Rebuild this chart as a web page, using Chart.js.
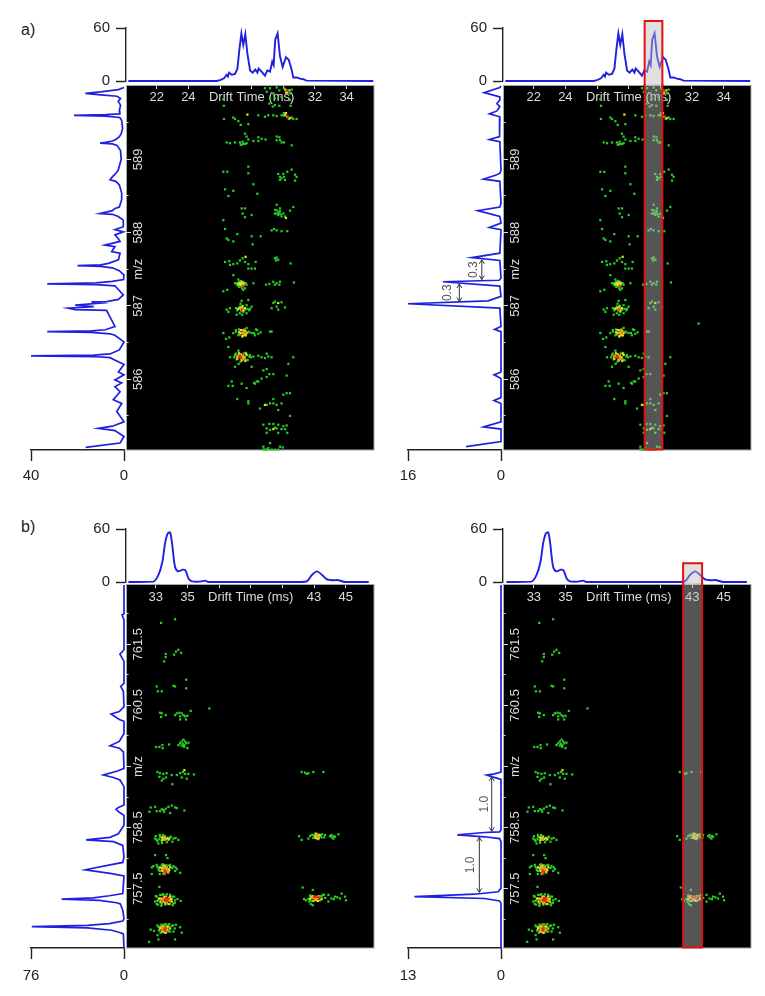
<!DOCTYPE html>
<html><head><meta charset="utf-8">
<script src="https://cdn.jsdelivr.net/npm/chart.js@4"></script>
<style>
html,body{margin:0;padding:0;background:#fff;width:765px;height:996px;overflow:hidden}
canvas{position:absolute;display:block}
.tag{position:absolute;font:16px "Liberation Sans",Arial,sans-serif;color:#222}
</style></head><body>
<div class="tag" style="left:21px;top:21px">a)</div>
<div class="tag" style="left:21px;top:518px">b)</div>
<script>
// ---------- DATA ----------
const topTraceA=[[20.21,0],[25.79,0],[26,1],[26.25,3],[26.42,7],[26.5,5],[26.57,9.5],[26.74,7],[26.95,8],[27.1,14],[27.22,35],[27.35,54],[27.47,41],[27.6,53],[27.73,31],[27.9,12],[28.06,9.5],[28.23,13],[28.36,9.5],[28.44,14],[28.63,10.6],[28.84,6],[28.99,12],[29.16,10.6],[29.3,22],[29.39,18],[29.49,47],[29.64,54],[29.79,28],[29.96,16],[30.17,27],[30.34,24],[30.51,14],[30.63,4],[30.84,4],[31.05,2.7],[31.26,2],[31.47,0.4],[35.68,0]];
const topTraceB=[[31.27,0],[32.85,0.4],[33.17,8],[33.42,23],[33.59,44],[33.76,55],[33.91,56],[34.03,44],[34.22,17],[34.43,12],[34.71,14],[34.88,13],[35.07,4],[35.28,0.8],[35.8,0.4],[36.12,1.5],[36.33,0],[42.13,0],[42.56,1],[42.87,8],[43.19,12],[43.51,8],[43.82,3],[44.03,2.3],[44.24,1.9],[44.46,2.3],[44.77,0.8],[44.98,0],[46.46,0]];
const sideTraceA=[[589.98,0],[589.95,2.4],[589.92,10],[589.9,16.6],[589.88,10],[589.86,3],[589.83,1.5],[589.79,2.5],[589.74,1.5],[589.66,2],[589.62,1.8],[589.61,8],[589.6,21.5],[589.59,8],[589.57,1.8],[589.53,1],[589.42,0.6],[589.35,1.2],[589.31,2],[589.27,3.5],[589.25,5],[589.23,8],[589.22,10.3],[589.21,5],[589.19,3],[589.12,1.5],[589,1.2],[588.85,2.5],[588.81,3.5],[588.76,5],[588.72,6],[588.7,3.5],[588.65,2],[588.54,1],[588.45,1],[588.35,2],[588.33,3.9],[588.3,5],[588.26,10.3],[588.25,5],[588.22,2.5],[588.17,0.3],[588.08,0.3],[588.04,3.9],[588.01,0.3],[587.97,3.9],[587.92,2.5],[587.88,1.7],[587.83,8.2],[587.81,3.9],[587.74,5.3],[587.72,1.7],[587.63,2.4],[587.58,6.7],[587.56,10],[587.55,20],[587.54,10],[587.52,5],[587.48,2],[587.42,0],[587.36,0.2],[587.335,5],[587.315,12],[587.3,33],[587.29,12],[587.275,3.9],[587.15,0.3],[587.09,2.4],[587.06,7.5],[587.055,14],[587.04,10],[587.01,21],[586.99,13],[586.97,24],[586.95,21],[586.94,7.5],[586.72,3.9],[586.675,8],[586.66,14],[586.65,33],[586.64,14],[586.62,6],[586.6,3.9],[586.51,0],[586.4,2],[586.345,6],[586.33,13],[586.32,40],[586.31,13],[586.295,6],[586.25,3.1],[586.2,0],[586.1,2.4],[586.06,0],[585.99,3.9],[585.95,1],[585.9,3.9],[585.83,1.7],[585.72,4.6],[585.67,1],[585.56,3.1],[585.42,0],[585.36,5],[585.33,11],[585.31,6],[585.3,3.9],[585.22,0],[585.13,1.7],[585.07,16.5]];
const sideTraceA2=[[590,0],[589.98,0.2],[589.91,2.9],[589.85,0.2],[589.81,0.2],[589.76,0.7],[589.72,0.2],[589.66,0.7],[589.62,2],[589.58,0.2],[589.35,0.2],[589.31,0.3],[589.27,2],[589.24,0.2],[588.85,0],[588.81,0.2],[588.79,0.7],[588.73,3],[588.7,0.2],[588.4,0],[588.35,0.2],[588.3,4],[588.22,0.2],[588.13,0],[588.07,2],[588.04,0],[587.72,0.2],[587.66,5],[587.62,0.2],[587.38,0],[587.35,0.3],[587.33,10],[587.27,0.2],[587.13,0],[587.07,2.2],[587.03,16],[586.97,0.2],[586.72,0],[586.68,1.1],[586.65,0],[586.1,0],[586.06,1.2],[586.01,0],[585.75,0],[585.71,1.2],[585.67,0],[585.42,0],[585.35,3],[585.32,0],[585.15,0],[585.08,6]];
const sideTraceB=[[762.47,0],[762,0],[761.98,1.6],[761.9,0],[761.41,0],[761.34,3.3],[761.27,1.4],[761.22,0],[760.86,0],[760.81,2.7],[760.73,0.5],[760.48,0],[760.4,3.8],[760.36,10.6],[760.27,3.8],[760.24,0],[760.04,0],[759.91,3.8],[759.84,11.4],[759.8,3.8],[759.74,0.5],[759.47,0],[759.43,4.6],[759.36,16.9],[759.32,8.7],[759.28,3.3],[759.17,0],[758.87,0],[758.83,4.6],[758.8,6.5],[758.75,3.8],[758.7,0],[758.54,0],[758.4,4.6],[758.34,11.4],[758.3,31],[758.27,8.7],[758.21,1],[758.02,0],[757.93,1],[757.89,11.4],[757.81,31.6],[757.75,11.4],[757.71,0],[757.42,1],[757.385,12],[757.35,25],[757.33,51],[757.31,20],[757.27,6],[757.25,3],[757.15,1],[757.01,0],[756.97,1],[756.93,12],[756.9,30],[756.88,75.4],[756.86,30],[756.82,10],[756.78,3],[756.76,0.5],[756.52,0]];
const sideTraceB2=[[762.47,0],[759.41,0],[759.38,0.9],[759.36,2],[759.33,1.2],[759.29,0],[758.46,0],[758.43,0.2],[758.42,2.3],[758.38,6.1],[758.35,2.3],[758.32,0.2],[758.27,0],[757.51,0],[757.45,0.4],[757.41,3.7],[757.37,12.1],[757.34,2.3],[757.3,0.2],[757.26,0],[756.52,0]];

const greenA=[[28.84,589.97],[29.16,589.97],[29.58,589.98],[28.95,589.92],[29.37,589.9],[29.75,589.94],[29.89,589.85],[29.16,589.83],[29.47,589.83],[26.21,589.82],[26.25,589.73],[30.42,589.81],[29.12,589.76],[29.33,589.72],[29.75,589.73],[30.46,589.73],[29.47,589.74],[30.04,589.97],[30.42,589.9],[30.53,589.95],
[26.25,589.55],[26.84,589.57],[26.95,589.55],[27.16,589.52],[28.42,589.6],[28.84,589.58],[29.05,589.6],[29.37,589.6],[29.58,589.59],[27.79,589.48],[27.31,589.47],[29.89,589.6],[30.63,589.55],[30.84,589.55],[30,589.6],[30.53,589.57],[30.34,589.55],[30.04,589.63],
[26.42,589.23],[26.63,589.22],[26.95,589.23],[27.58,589.35],[27.68,589.31],[27.79,589.27],[28.11,589.25],[28.42,589.3],[28.42,589.25],[28.63,589.28],[28.88,589.27],[29.58,589.31],[29.75,589.3],[29.79,589.26],[29.89,589.23],[30.04,589.23],[30.53,589.19],[27.26,589.23],[27.37,589.2],[27.47,589.21],[27.58,589.21],[27.68,589.22],[27.31,589.2],[27.43,589.24],[29.58,589.26],
[26.21,588.83],[26.46,588.83],[27.79,588.9],[27.79,588.81],[28.11,588.66],[29.68,588.8],[29.79,588.76],[29.89,588.74],[30,588.8],[30.11,588.72],[30.25,588.83],[30.53,588.86],[30.74,588.79],[30.84,588.76],[30.74,588.71],[29.79,588.72],[30.04,588.76],[26.32,588.59],[26.84,588.57],[26.53,588.5],[28.36,588.53],
[27.37,588.33],[27.58,588.33],[27.43,588.26],[27.58,588.21],[28,588.24],[30.42,588.3],[30.63,588.35],[29.58,588.38],[29.49,588.31],[29.58,588.26],[29.68,588.24],[29.79,588.29],[29.89,588.22],[30,588.26],[29.47,588.26],[29.79,588.33],[30.11,588.22],[29.62,588.3],[29.71,588.27],[29.83,588.25],[26.21,588.17],
[26.32,588.05],[29.26,588.03],[29.41,588.05],[29.58,588.03],[29.89,588.02],[30.25,588.02],[27.09,587.98],[26.42,587.92],[28,587.95],[28.57,587.95],[26.53,587.9],[26.84,587.88],[28.06,587.84],
[26.32,587.6],[26.59,587.61],[26.63,587.56],[26.84,587.57],[27.09,587.58],[27.26,587.62],[27.43,587.65],[27.58,587.6],[27.79,587.57],[28.25,587.6],[28.21,587.51],[28,587.51],[27.79,587.51],[29.47,587.65],[29.58,587.66],[29.68,587.63],[29.54,587.62],[30.46,587.58],[26.84,587.42],
[26.95,587.31],[27.09,587.29],[27.58,587.24],[27.22,587.26],[27.68,587.29],[28.11,587.31],[28.91,587.29],[29.12,587.3],[29.37,587.33],[29.58,587.31],[29.75,587.29],[29.47,587.29],[29.79,587.33],[30.67,587.32],[26.21,587.2],[26.46,587.22],[27.16,587.36],[27.47,587.22],
[26.42,586.95],[26.53,586.92],[26.63,586.97],[27.01,586.97],[27.26,586.99],[27.47,586.92],[27.68,587.01],[27.79,587.08],[28,586.99],[27.68,586.9],[27.09,586.94],[27.85,586.94],[27.05,586.88],[29.37,587.04],[29.47,587.06],[29.89,587.05],[29.58,586.99],[29.26,586.97],[30.11,586.98],[29.68,586.95],
[26.21,586.63],[26.38,586.55],[26.59,586.57],[26.84,586.63],[27.01,586.65],[27.16,586.6],[27.68,586.7],[27.79,586.65],[28,586.63],[28.15,586.63],[28.27,586.68],[28.42,586.62],[28.57,586.64],[29.16,586.65],[29.26,586.65],
[26.53,586.44],[26.63,586.3],[26.95,586.33],[27.64,586.27],[27.89,586.33],[28.11,586.31],[28.42,586.32],[28.63,586.3],[28.95,586.35],[29.05,586.31],[29.26,586.3],[28.84,586.29],[27.37,586.26],[27.16,586.39],[30.63,586.3],[26.95,586.17],[27.18,586.21],[28,586.17],[30.32,586.21],
[28.74,586.12],[28.95,586.14],[29.12,586.07],[29.37,586.07],[28.63,586.01],[28.95,586.03],[30.21,586.05],[28.32,585.97],[28.15,585.95],[28.42,585.97],[28.21,585.94],[26.53,585.91],[26.74,585.97],[26.8,585.91],[27.37,585.94],[27.68,585.88],
[27.09,585.73],[27.79,585.7],[27.79,585.67],[30,585.79],[30.21,585.81],[30.42,585.81],[29.37,585.73],[29.16,585.67],[28.95,585.65],[29.37,585.67],[29.58,585.65],[29.89,585.67],[28.53,585.6],[29.68,585.58],[30.42,585.5],
[28.74,585.38],[29.12,585.39],[29.37,585.39],[29.68,585.38],[30,585.36],[30.21,585.37],[28.95,585.33],[29.16,585.31],[29.58,585.33],[30.11,585.32],[28.95,585.27],[29.68,585.27],[29.89,585.32],[30.25,585.27],[29.47,585.34],
[29.16,585.13],[28.74,585.08],[28.84,585.04],[29.05,585.06],[29.26,585.04],[29.47,585.04],[29.79,585.08],[29.96,585.07],[29.68,585.04],[28.95,585.04],[28.74,585.04],
[27.05,587.31],[27.13,587.28],[27.2,587.33],[27.32,587.34],[27.45,587.33],[27.52,587.29],[27.4,587.24],[27.3,587.27],[27.62,587.31],
[27.2,586.97],[27.3,587.03],[27.37,587.07],[27.45,587],[27.5,586.93],[27.6,586.95],[27.75,586.96],[27.9,586.96],[27.25,586.9],[27.4,586.88],
[27,586.67],[27.2,586.68],[27.25,586.61],[27.4,586.58],[27.55,586.68],[27.85,586.64],[28.2,586.6],[28.35,586.67],
[26.9,586.3],[27,586.35],[27.05,586.27],[27.3,586.24],[27.5,586.35],[27.75,586.26],[27.85,586.31],[27.95,586.3],[27.6,586.36],[27.2,586.36]];
const yellowA=[[30.13,589.95],[30.25,589.91],[30.38,589.94],[30.17,589.91],[27.73,589.61],[30.11,589.6],[30.25,589.58],[30.42,589.56],[30.17,589.63],[30.17,588.2],[27.62,587.67],[27.26,587.31],[27.37,587.32],[27.16,587.3],[27.58,586.97],[29.68,587.04],[27.16,586.96],[27.31,586.67],[27.58,586.6],[27.31,586.63],[27.68,586.63],[27.09,586.31],[27.47,586.3],[27.68,586.33],[28.84,585.65],[29.37,585.32],
[27.28,587.29],[27.35,587.3],[27.42,587.29],[27.5,587.31],[27.3,586.97],[27.45,586.94],[27.4,586.99],[27.2,586.64],[27.37,586.67],[27.42,586.59],[27.6,586.66],[27.5,586.61],[27.63,586.6],[27.1,586.28],[27.2,586.35],[27.55,586.3],[27.6,586.25],[27.4,586.26],[27.65,586.35]];
const orangeA=[[27.43,586.63],[27.52,586.65],[27.4,586.32],[27.4,587.28],[27.33,586.94],[27.45,586.96],[27.48,586.64],[27.5,586.67],[27.55,586.62],[27.15,586.32],[27.32,586.34],[27.45,586.32],[27.35,586.27],[27.5,586.28]];
const redA=[[30.25,589.94],[30.29,589.58],[27.47,587.27],[27.37,586.95],[27.26,586.31],[27.32,586.3],[27.2,586.3]];
const greenB=[[33.34,761.85],[34.22,761.91],[33.63,761.34],[33.63,761.29],[33.53,761.22],[34.16,761.33],[34.28,761.38],[34.43,761.41],[34.6,761.36],[34.92,760.92],[33.06,760.81],[33.13,760.73],[33.38,760.73],[34.12,760.82],[34.22,760.81],[34.92,760.78],
[33.27,760.38],[33.38,760.37],[33.34,760.31],[33.63,760.34],[34.22,760.34],[34.33,760.37],[34.49,760.38],[34.64,760.37],[34.54,760.32],[34.75,760.34],[34.85,760.32],[35,760.33],[35.21,760.41],[34.92,760.27],[34.54,760.27],[36.39,760.45],
[33.02,759.82],[33.23,759.82],[33.42,759.85],[33.84,759.86],[33.44,759.8],[34.54,759.88],[34.64,759.91],[34.75,759.94],[34.79,759.85],[34.92,759.88],[34.64,759.84],[34.79,759.82],[35.06,759.89],[35,759.8],[34.43,759.85],[34.71,759.87],[34.85,759.91],
[33.11,759.41],[33.27,759.39],[33.48,759.38],[33.23,759.33],[33.48,759.3],[33.38,759.27],[33.65,759.32],[33.69,759.39],[34.01,759.36],[34.05,759.21],[34.33,759.36],[34.54,759.39],[34.71,759.41],[34.85,759.38],[34.96,759.3],[35.06,759.38],[34.64,759.32],[35.42,759.37],[42.22,759.41],[42.43,759.4],[42.64,759.39],[42.96,759.41],[43.59,759.41],[42.54,759.38],
[32.6,758.76],[32.68,758.83],[33.06,758.77],[32.96,758.84],[33.27,758.77],[33.48,758.79],[33.63,758.81],[33.8,758.84],[34.01,758.86],[34.22,758.83],[33.91,758.74],[34.33,758.82],[34.81,758.78],[33.53,758.76],[33.38,758.8],
[32.96,758.32],[33.06,758.3],[33.17,758.24],[33.27,758.35],[33.38,758.28],[33.59,758.36],[33.8,758.3],[33.91,758.34],[34.12,758.32],[34.43,758.3],[33.23,758.31],
[42.05,758.36],[42.22,758.3],[42.64,758.32],[42.75,758.36],[42.92,758.38],[43.06,758.4],[43.27,758.31],[43.48,758.34],[43.69,758.38],[44.01,758.36],[44.12,758.34],[44.33,758.35],[44.54,758.39],[44.22,758.32],
[32.96,758.05],[33.65,758.05],[33.74,758],[32.75,757.85],[32.85,757.87],[33.06,757.89],[32.75,757.74],[33.17,757.83],[33.27,757.79],[33.38,757.89],[33.91,757.89],[34.12,757.87],[34.22,757.79],[34.33,757.82],[34.54,757.76],[33.8,757.76],[33.48,757.74],
[33.23,757.53],[33.06,757.37],[32.96,757.29],[33.06,757.25],[33.27,757.4],[33.48,757.41],[33.91,757.4],[34.16,757.37],[34.37,757.33],[34.58,757.3],[34.12,757.26],[34.22,757.31],[33.17,757.31],[34.07,757.23],[33.38,757.25],
[32.68,756.83],[32.89,756.81],[33.17,756.88],[33.23,756.82],[33.48,756.91],[33.69,756.91],[34.01,756.89],[34.28,756.91],[34.54,756.87],[34.64,756.78],[34.12,756.8],[33.11,756.74],[33.91,756.8],[34.22,756.67],[33.17,756.67],[32.58,756.63],
[42.28,757.52],[42.92,757.48],[42.37,757.33],[42.49,757.31],[42.75,757.37],[42.71,757.29],[42.79,757.25],[42.92,757.23],[43.06,757.34],[43.38,757.31],[43.48,757.37],[43.63,757.4],[43.91,757.4],[43.91,757.29],[44.33,757.37],[44.47,757.36],[44.64,757.34],[44.75,757.42],[44.96,757.37],[45.02,757.31],
[33,758.36],[33.1,758.28],[33.25,758.38],[33.45,758.38],[33.7,758.26],[33.95,758.35],[34.05,758.27],[33.4,758.25],[34.25,758.33],
[33.1,757.86],[33.2,757.8],[33.25,757.74],[33.65,757.88],[33.8,757.88],[34.05,757.84],[34.25,757.85],[33.45,757.9],
[33,757.38],[33.1,757.3],[33.15,757.24],[33.4,757.4],[33.35,757.22],[33.7,757.41],[34.05,757.37],[34.2,757.27],[33.9,757.25],[33.6,757.24],
[33.1,756.9],[33.2,756.82],[33.35,756.91],[33.6,756.92],[33.85,756.92],[34.1,756.9],[33.3,756.78],[33.65,756.78],[33.8,756.8],[34.2,756.85],
[42.85,758.38],[42.95,758.33],[43.4,758.36],[43.5,758.39],[43.65,758.34],[44.1,758.38],[44.25,758.36],
[42.75,757.39],[42.65,757.33],[42.85,757.3],[43.4,757.38],[43.55,757.4],[43.7,757.35],[44.1,757.34],[44.25,757.33]];
const yellowB=[[34.81,759.44],[33.48,758.32],[33.65,758.31],[33.42,758.3],[43.06,758.36],[43.17,758.35],[43.27,758.38],[43.21,758.32],[33.27,757.85],[33.48,757.86],[33.8,757.82],[33.59,757.79],[33.91,757.85],[33.32,757.34],[33.48,757.29],[33.91,757.33],[34.01,757.29],[33.65,757.37],[33.27,756.85],[33.8,756.88],[33.48,756.8],[33.91,756.85],[42.85,757.36],[42.96,757.3],[43.17,757.31],[43.27,757.37],[43.48,757.33],
[33.4,758.34],[33.55,758.34],[33.75,758.33],[33.85,758.31],[33.38,757.84],[33.45,757.79],[33.55,757.88],[33.75,757.78],[33.85,757.8],[33.4,757.8],[33.2,757.34],[33.3,757.28],[33.55,757.37],[33.8,757.25],[34,757.33],[33.6,757.26],[33.9,757.37],[33.3,756.87],[33.45,756.88],[33.7,756.87],[33.75,756.83],[33.4,756.8],[33.6,756.78],[43.15,758.4],[43.1,758.33],[43.3,758.33],[43.35,758.38],[42.75,757.33],[42.9,757.38],[43.3,757.37],[43.25,757.3],[43.1,757.32]];
const orangeB=[[33.59,758.32],[43.21,758.35],[33.63,757.83],[33.69,757.81],[33.42,757.82],[33.44,757.33],[33.8,757.31],[33.42,756.85],[33.69,756.82],[33.55,758.3],[33.5,757.83],[33.6,757.85],[33.55,757.76],[33.7,757.85],[33.35,757.32],[33.5,757.35],[33.6,757.3],[33.85,757.35],[33.9,757.3],[33.7,757.28],[33.45,756.83],[33.55,756.88],[33.7,756.84],[33.5,756.79],[43.22,758.38],[43.28,758.35],[42.9,757.35],[43,757.35],[43.25,757.35],[43.18,757.33]];
const redB=[[33.65,757.78],[33.59,757.31],[33.69,757.3],[33.59,756.85],[43.06,757.37],[43.17,757.36],[43.32,757.36],[33.55,757.79],[33.6,757.74],[33.72,757.33],[33.8,757.33],[33.65,757.35],[33.55,756.83],[33.63,756.85],[43,757.37],[43.12,757.37]];
const extraDotA=[[32.42,586.76]];

const driftTicksA=[22,24,26,28,30,32,34];
const driftLabelsA=['22','24','','Drift Time (ms)','','32','34'];
const driftTicksB=[33,35,37,39,41,43,45];
const driftLabelsB=['33','35','','Drift Time (ms)','','43','45'];
const mzTicksA=[585.5,586,586.5,587,587.5,588,588.5,589,589.5];
const mzLabelsA=['','586','','587','m/z','588','','589',''];
const mzMajorA=[586,587,588,589];
const mzTicksB=[757,757.5,758,758.5,759,759.5,760,760.5,761,761.5,762];
const mzLabelsB=['','757.5','','758.5','','m/z','','760.5','','761.5',''];
const mzMajorB=[757.5,758.5,759.5,760.5,761.5];
const signalTicks=[0,60];
const arrowsA2=[[587.63,587.36,3.3,4.7,'0.3'],[587.30,587.06,7.17,9.1,'0.3']];
const arrowsB2=[[759.33,758.44,1.3,2.24,'1.0'],[758.34,757.44,3.03,4.19,'1.0']];
const windowA2=[29.01,30.13,67.9];
const windowB2=[42.43,43.63,21.2];

// ---------- STYLE ----------
const FONT='"Liberation Sans",Arial,sans-serif';
const BLUE='#1f1fe0',INK='#222',PALE='#dcdcdc',RED='#e01212',VEIL='rgba(187,187,187,0.455)';
const toXY=(p)=>({x:p[0],y:p[1]});
const toYX=(p)=>({x:p[1],y:p[0]});
const noPad=s=>{s.paddingTop=s.paddingBottom=s.paddingLeft=s.paddingRight=0;};

function addChart(frame,plot,config,pad){
  const c=document.createElement('canvas');
  c.width=frame.r-frame.l;c.height=frame.b-frame.t;
  c.style.left=frame.l+'px';c.style.top=frame.t+'px';
  c.style.width=c.width+'px';c.style.height=c.height+'px';
  document.body.appendChild(c);
  config.options=Object.assign({responsive:false,animation:false,devicePixelRatio:1,
    layout:{autoPadding:false,padding:Object.assign({left:plot.l-frame.l,top:plot.t-frame.t,right:frame.r-plot.r,bottom:frame.b-plot.b},pad||{})},
    plugins:{legend:{display:false},tooltip:{enabled:false},title:{display:false}}},config.options);
  return new Chart(c,config);
}

function topChart(p){
  const plugins=[];
  const frameTop=p.zeroY-70;
  if(p.window){plugins.push({id:'win',afterDatasetsDraw(ch){
    const x=ch.scales.x,y=ch.scales.y,ctx=ch.ctx;
    const a=x.getPixelForValue(p.window[0]),b=x.getPixelForValue(p.window[1]),t=y.getPixelForValue(p.window[2]),bt=p.heatTop-frameTop;
    ctx.save();ctx.fillStyle=VEIL;ctx.fillRect(a,t,b-a,bt-t);
    ctx.strokeStyle=RED;ctx.lineWidth=2;ctx.beginPath();ctx.moveTo(a,bt);ctx.lineTo(a,t);ctx.lineTo(b,t);ctx.lineTo(b,bt);ctx.stroke();ctx.restore();
  }});}
  addChart({l:p.x0-46,t:frameTop,r:p.x1+4,b:p.heatTop+8},{l:p.x0,t:p.zeroY-53,r:p.x1,b:p.zeroY},{
    type:'line',
    data:{datasets:[{data:p.top.map(toXY),borderColor:BLUE,borderWidth:1.9,pointRadius:0,tension:p.smooth,fill:false,clip:false}]},
    plugins,
    options:{scales:{
      x:{type:'linear',display:false,min:p.drift[0],max:p.drift[1]},
      y:{type:'linear',position:'left',min:0,max:60,afterFit:s=>{s.width=46;noPad(s)},afterBuildTicks:s=>{s.ticks=signalTicks.map(value=>({value}))},
        border:{display:true,color:INK,width:1.4},
        grid:{drawOnChartArea:false,drawTicks:true,tickLength:10,tickColor:INK,tickWidth:1.4},
        ticks:{autoSkip:false,padding:6,color:INK,font:{family:FONT,size:15}}}
    }}
  },{left:0});
}

function sideChart(p){
  const plugins=[];
  if(p.arrows){plugins.push({id:'arr',afterDatasetsDraw(ch){
    const x=ch.scales.x,y=ch.scales.y,ctx=ch.ctx;
    ctx.save();
    p.arrows.forEach(a=>{
      const px=x.getPixelForValue(a[2]),y1=y.getPixelForValue(a[0]),y2=y.getPixelForValue(a[1]),lx=x.getPixelForValue(a[3]);
      ctx.strokeStyle='#333';ctx.lineWidth=1;ctx.beginPath();
      ctx.moveTo(px,y1);ctx.lineTo(px,y2);
      ctx.moveTo(px-2.5,y1+4);ctx.lineTo(px,y1);ctx.lineTo(px+2.5,y1+4);
      ctx.moveTo(px-2.5,y2-4);ctx.lineTo(px,y2);ctx.lineTo(px+2.5,y2-4);ctx.stroke();
      ctx.save();ctx.translate(lx,(y1+y2)/2);ctx.rotate(-Math.PI/2);
      ctx.fillStyle='#555';ctx.font='12px '+FONT;ctx.textAlign='center';ctx.textBaseline='middle';
      ctx.fillText(a[4],0,0);ctx.restore();
    });
    ctx.restore();
  }});}
  addChart({l:p.sideL-14,t:p.heatTop-6,r:p.sideR+12,b:p.heatBottom+40},{l:p.sideL,t:p.heatTop,r:p.sideR,b:p.heatBottom},{
    type:'scatter',
    data:{datasets:[{data:p.side.map(toYX),showLine:true,borderColor:BLUE,borderWidth:1.7,pointRadius:0,tension:0,fill:false,clip:false}]},
    plugins,
    options:{scales:{
      y:{type:'linear',display:false,min:p.mz[0],max:p.mz[1]},
      x:{type:'linear',position:'bottom',reverse:true,min:0,max:p.sideMax,afterFit:s=>{s.height=40;noPad(s)},
        afterBuildTicks:s=>{s.ticks=[0,p.sideMax].map(value=>({value}))},
        border:{display:true,color:INK,width:1.4},
        grid:{drawOnChartArea:false,drawTicks:true,tickLength:11,tickColor:INK,tickWidth:1.4},
        ticks:{autoSkip:false,padding:p.sidePad,maxRotation:0,color:INK,font:{family:FONT,size:15}}}
    }}
  },{bottom:0});
}

function heatChart(p){
  const layer=(d,color)=>({data:d.map(toXY),backgroundColor:color,borderWidth:0,pointStyle:'rect',pointRadius:1.6,clip:false});
  const sets=[layer(p.red,'#e8301a'),layer(p.orange,'#f0a020'),layer(p.yellow,'#e6e020'),layer(p.green,'#28cc28')];
  if(p.extra)sets.push(layer(p.extra,'#28cc28'));
  addChart({l:p.x0-2,t:p.heatTop-2,r:p.x1+2,b:p.heatBottom+2},{l:p.x0,t:p.heatTop,r:p.x1,b:p.heatBottom},{
    type:'scatter',
    data:{datasets:sets},
    plugins:[{id:'heat',
      beforeDraw(ch){
        const a=ch.chartArea,ctx=ch.ctx;
        ctx.save();ctx.fillStyle='#000';ctx.fillRect(a.left,a.top,a.right-a.left,a.bottom-a.top);
        ctx.strokeStyle='#a8a8a8';ctx.lineWidth=1;ctx.strokeRect(a.left+0.5,a.top-0.5,a.right-a.left-0.5,a.bottom-a.top+0.5);ctx.restore();
        ch.scales.x.getLabelItems(a).forEach(it=>{it.textOffset=0;it.options.textAlign='center';it.options.textBaseline='middle';it.options.translation=[it.options.translation[0],a.top+p.xLabelDy];});
        ch.scales.y.getLabelItems(a).forEach(it=>{it.textOffset=0;it.options.textAlign='center';it.options.textBaseline='middle';it.options.translation=[a.left+12,it.options.translation[1]];});
      },
      afterDatasetsDraw(ch){
        if(!p.window)return;
        const x=ch.scales.x,a=ch.chartArea,ctx=ch.ctx;
        const l=x.getPixelForValue(p.window[0]),r=x.getPixelForValue(p.window[1]);
        ctx.save();ctx.fillStyle=VEIL;ctx.fillRect(l,a.top-2,r-l,a.bottom-a.top+2);
        ctx.strokeStyle=RED;ctx.lineWidth=2;ctx.beginPath();ctx.moveTo(l,a.top-2);ctx.lineTo(l,a.bottom-0.5);ctx.lineTo(r,a.bottom-0.5);ctx.lineTo(r,a.top-2);ctx.stroke();ctx.restore();
      }}],
    options:{scales:{
      x:{type:'linear',position:'top',min:p.drift[0],max:p.drift[1],afterFit:s=>{s.height=0;noPad(s)},
        afterBuildTicks:s=>{s.ticks=p.xTicks.map(value=>({value}))},
        border:{display:false},
        grid:{drawOnChartArea:false,drawTicks:true,tickLength:-3,tickColor:PALE},
        ticks:{autoSkip:false,mirror:true,maxRotation:0,minRotation:0,color:PALE,font:{family:FONT,size:13},callback:(v,i)=>p.xLabels[i]}},
      y:{type:'linear',position:'left',min:p.mz[0],max:p.mz[1],afterFit:s=>{s.width=0;noPad(s)},
        afterBuildTicks:s=>{s.ticks=p.yTicks.map(value=>({value}))},
        border:{display:false},
        grid:{drawOnChartArea:false,drawTicks:true,tickLength:-2.5,tickColor:PALE},
        ticks:{autoSkip:false,mirror:true,minRotation:90,maxRotation:90,color:PALE,font:{family:FONT,size:13},callback:(v,i)=>p.yLabels[i]}},
      yMajor:{type:'linear',position:'left',min:p.mz[0],max:p.mz[1],afterFit:s=>{s.width=0;noPad(s)},
        afterBuildTicks:s=>{s.ticks=p.yMajor.map(value=>({value}))},
        border:{display:false},
        grid:{drawOnChartArea:false,drawTicks:true,tickLength:-5,tickColor:PALE},
        ticks:{display:false,autoSkip:false}}
    }}
  });
}

const commonA={mz:[585.035,590],heatTop:86,heatBottom:450,zeroY:81,top:topTraceA,smooth:0,sidePad:6,xLabelDy:11.7,xTicks:driftTicksA,xLabels:driftLabelsA,yTicks:mzTicksA,yLabels:mzLabelsA,yMajor:mzMajorA,green:greenA,yellow:yellowA,orange:orangeA,red:redA};
const commonB={mz:[756.53,762.47],heatTop:585,heatBottom:948,zeroY:582,top:topTraceB,smooth:0.3,sidePad:8,xLabelDy:12,xTicks:driftTicksB,xLabels:driftLabelsB,yTicks:mzTicksB,yLabels:mzLabelsB,yMajor:mzMajorB,green:greenB,yellow:yellowB,orange:orangeB,red:redB};
const panels=[
  Object.assign({},commonA,{x0:126,x1:374,drift:[20.06,35.73],sideL:31,sideR:124,side:sideTraceA,sideMax:40}),
  Object.assign({},commonA,{x0:503,x1:751,drift:[20.06,35.73],sideL:408,sideR:501,side:sideTraceA2,sideMax:16,window:windowA2,arrows:arrowsA2,extra:extraDotA}),
  Object.assign({},commonB,{x0:126,x1:374,drift:[31.12,46.79],sideL:31,sideR:124,side:sideTraceB,sideMax:76}),
  Object.assign({},commonB,{x0:503,x1:751,drift:[31.05,46.72],sideL:408,sideR:501,side:sideTraceB2,sideMax:13,window:windowB2,arrows:arrowsB2})
];
panels.forEach(p=>{sideChart(p);heatChart(p);topChart(p);});
</script>
</body></html>
